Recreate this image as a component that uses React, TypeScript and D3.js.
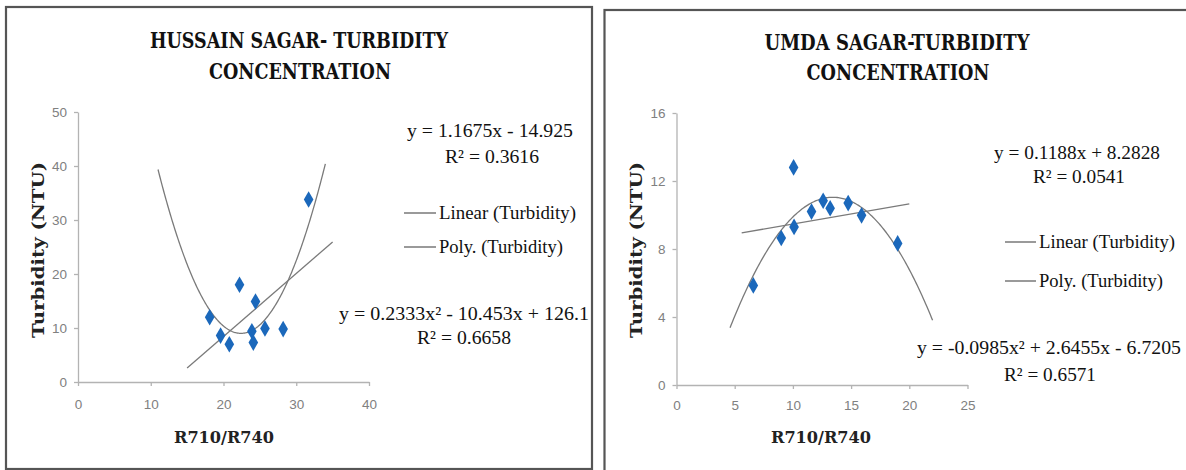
import React, { useRef, useEffect } from 'react';
import * as d3 from 'd3';

// Hussain Sagar samples
const hussainRatio = [18.1, 19.6, 20.8, 22.2, 23.9, 24.1, 24.4, 25.7, 28.2, 31.7];
const hussainTurb = [12.0, 8.6, 7.0, 18.0, 9.4, 7.3, 14.9, 9.9, 9.8, 33.8];
const hussainXTicks = [0, 10, 20, 30, 40];
const hussainYTicks = [0, 10, 20, 30, 40, 50];
const hussainLinear = [1.1675, -14.925]; // slope, intercept
const hussainPoly = [0.2333, -10.453, 126.1]; // a, b, c
const hussainLinearSpan = [15, 35];
const hussainPolySpan = [11, 34];

// Umda Sagar samples
const umdaRatio = [6.6, 9.0, 10.06, 10.1, 11.6, 12.6, 13.2, 14.75, 15.9, 19.0];
const umdaTurb = [5.86, 8.65, 12.8, 9.3, 10.2, 10.84, 10.4, 10.7, 9.98, 8.33];
const umdaXTicks = [0, 5, 10, 15, 20, 25];
const umdaYTicks = [0, 4, 8, 12, 16];
const umdaLinear = [0.1188, 8.2828];
const umdaPoly = [-0.0985, 2.6455, -6.7205];
const umdaLinearSpan = [5.6, 20];
const umdaPolySpan = [4.6, 22];

const serif = "'Liberation Serif', 'DejaVu Serif', serif";
const boldSerif = "'DejaVu Serif', serif";

const Panel = ({ cfg }) => {
  const xAxisRef = useRef();
  const yAxisRef = useRef();

  const x = d3.scaleLinear().domain(cfg.xDomain).range(cfg.xRange);
  const y = d3.scaleLinear().domain(cfg.yDomain).range(cfg.yRange);

  useEffect(() => {
    const styleAxis = (g) => {
      g.select('.domain').attr('stroke', '#b3b3b3').attr('stroke-width', 1.3);
      g.selectAll('.tick line').attr('stroke', '#b3b3b3').attr('stroke-width', 1.3);
      g.selectAll('.tick text')
        .attr('fill', '#808080')
        .style('font-family', "'Liberation Sans', Arial, sans-serif")
        .style('font-size', '13.5px');
    };
    d3.select(xAxisRef.current)
      .call(d3.axisBottom(x).tickValues(cfg.xTicks).tickSize(4).tickSizeOuter(0).tickPadding(cfg.xPad))
      .call(styleAxis);
    d3.select(yAxisRef.current)
      .call(d3.axisLeft(y).tickValues(cfg.yTicks).tickSize(4).tickSizeOuter(0).tickPadding(7))
      .call(styleAxis);
  }, []);

  const linePath = d3.line().x(d => x(d[0])).y(d => y(d[1]));
  const linPts = cfg.linSpan.map(v => [v, cfg.lin[0] * v + cfg.lin[1]]);
  const polyPts = d3.range(cfg.polySpan[0], cfg.polySpan[1] + 0.001, 0.1)
    .map(v => [v, cfg.poly[0] * v * v + cfg.poly[1] * v + cfg.poly[2]]);

  const diamond = d3.symbol().type(d3.symbolDiamond).size(80)();
  const L = cfg.legend;

  return (
    <g>
      <rect x={cfg.frame[0]} y={cfg.frame[1]} width={cfg.frame[2]} height={cfg.frame[3]}
        fill="#fff" stroke="#555" strokeWidth={2.2} />
      <g fontFamily={boldSerif} fontWeight="bold" fontSize={22} textAnchor="middle" fill="#111">
        <text x={cfg.titleX} y={cfg.titleY[0]} textLength={cfg.titleW[0]} lengthAdjust="spacingAndGlyphs">{cfg.title[0]}</text>
        <text x={cfg.titleX + 1} y={cfg.titleY[1]} textLength={cfg.titleW[1]} lengthAdjust="spacingAndGlyphs">{cfg.title[1]}</text>
      </g>
      <g ref={xAxisRef} transform={`translate(0,${cfg.yRange[0]})`} />
      <g ref={yAxisRef} transform={`translate(${cfg.xRange[0]},0)`} />
      <text x={cfg.xLabel[0]} y={cfg.xLabel[1]} textAnchor="middle" fontFamily={boldSerif} fontWeight="bold"
        fontSize={17} fill="#222" textLength={100} lengthAdjust="spacingAndGlyphs">R710/R740</text>
      <text transform={`translate(${cfg.yLabel[0]},${cfg.yLabel[1]}) rotate(-90)`} textAnchor="middle"
        fontFamily={boldSerif} fontWeight="bold" fontSize={17} fill="#222"
        textLength={176} lengthAdjust="spacingAndGlyphs">Turbidity (NTU)</text>

      <path d={linePath(polyPts)} fill="none" stroke="#7a7a7a" strokeWidth={1.3} />
      <path d={linePath(linPts)} fill="none" stroke="#7a7a7a" strokeWidth={1.3} />
      {cfg.xs.map((v, i) => (
        <path key={i} d={diamond} transform={`translate(${x(v)},${y(cfg.ys[i])})`} fill="#1b68bb" />
      ))}

      <g fontFamily={serif} fontSize={19} fill="#111">
        <text x={cfg.eq1[0]} y={cfg.eq1[1]} textAnchor="middle" textLength={cfg.eq1[2]} lengthAdjust="spacingAndGlyphs">{cfg.eq1Text}</text>
        <text x={cfg.r1[0]} y={cfg.r1[1]} textAnchor="middle" textLength={cfg.r1[2]} lengthAdjust="spacingAndGlyphs">{cfg.r1Text}</text>
        <text x={cfg.eq2[0]} y={cfg.eq2[1]} textAnchor="middle" textLength={cfg.eq2[2]} lengthAdjust="spacingAndGlyphs">{cfg.eq2Text}</text>
        <text x={cfg.r2[0]} y={cfg.r2[1]} textAnchor="middle" textLength={cfg.r2[2]} lengthAdjust="spacingAndGlyphs">{cfg.r2Text}</text>
        <line x1={L[0]} x2={L[1]} y1={L[2]} y2={L[2]} stroke="#9a9a9a" strokeWidth={2} />
        <line x1={L[0]} x2={L[1]} y1={L[3]} y2={L[3]} stroke="#9a9a9a" strokeWidth={2} />
        <text x={L[1] + 3} y={L[2] + 6} textLength={L[4]} lengthAdjust="spacingAndGlyphs">Linear (Turbidity)</text>
        <text x={L[1] + 3} y={L[3] + 6} textLength={L[5]} lengthAdjust="spacingAndGlyphs">Poly. (Turbidity)</text>
      </g>
    </g>
  );
};

const leftCfg = {
  frame: [6, 7, 586, 462],
  title: ['HUSSAIN SAGAR- TURBIDITY', 'CONCENTRATION'],
  titleX: 299, titleY: [48, 79], titleW: [298, 182],
  xDomain: [0, 40], yDomain: [0, 50], xRange: [78, 369], yRange: [382, 112],
  xTicks: hussainXTicks, yTicks: hussainYTicks, xPad: 13,
  xLabel: [224, 443], yLabel: [44, 250],
  xs: hussainRatio, ys: hussainTurb,
  lin: hussainLinear, poly: hussainPoly, linSpan: hussainLinearSpan, polySpan: hussainPolySpan,
  eq1Text: 'y = 1.1675x - 14.925', eq1: [490, 137, 166],
  r1Text: 'R² = 0.3616', r1: [492, 163, 94],
  eq2Text: 'y = 0.2333x² - 10.453x + 126.1', eq2: [464, 320, 250],
  r2Text: 'R² = 0.6658', r2: [464, 344, 94],
  legend: [404, 436, 213, 247, 137, 124],
};

const rightCfg = {
  frame: [604.5, 10, 600, 470],
  title: ['UMDA SAGAR-TURBIDITY', 'CONCENTRATION'],
  titleX: 897, titleY: [50, 80], titleW: [265, 183],
  xDomain: [0, 25], yDomain: [0, 16], xRange: [676.5, 967.5], yRange: [385, 113],
  xTicks: umdaXTicks, yTicks: umdaYTicks, xPad: 11,
  xLabel: [821, 443], yLabel: [642, 250],
  xs: umdaRatio, ys: umdaTurb,
  lin: umdaLinear, poly: umdaPoly, linSpan: umdaLinearSpan, polySpan: umdaPolySpan,
  eq1Text: 'y = 0.1188x + 8.2828', eq1: [1077, 159, 166],
  r1Text: 'R² = 0.0541', r1: [1079, 183, 92],
  eq2Text: 'y = -0.0985x² + 2.6455x - 6.7205', eq2: [1049, 354, 264],
  r2Text: 'R² = 0.6571', r2: [1050, 381, 92],
  legend: [1005, 1036, 242, 281, 136, 124],
};

export default function App() {
  return (
    <svg width={1186} height={470} style={{ display: 'block', position: 'absolute', left: 0, top: 0 }}>
      <rect width={1186} height={470} fill="#fff" />
      <Panel cfg={leftCfg} />
      <Panel cfg={rightCfg} />
    </svg>
  );
}
